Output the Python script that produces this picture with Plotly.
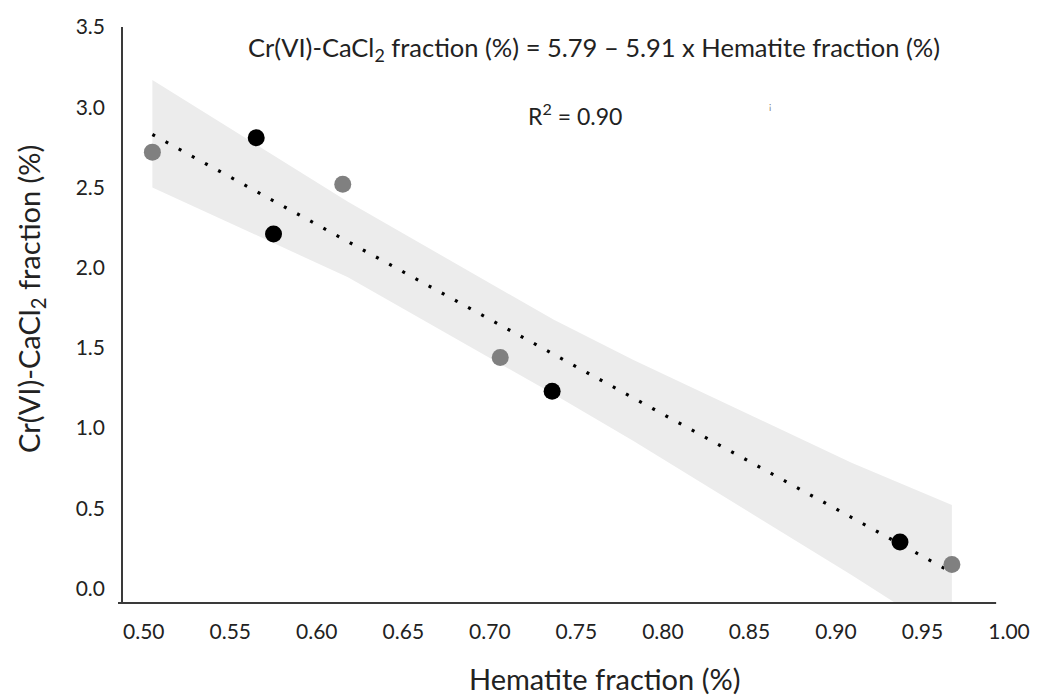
import plotly.graph_objects as go

# Data
gray_x = [0.505, 0.615, 0.706, 0.967]
gray_y = [2.72, 2.52, 1.44, 0.15]
black_x = [0.565, 0.575, 0.736, 0.937]
black_y = [2.81, 2.21, 1.23, 0.29]

fit_x = [0.505, 0.967]
fit_y = [2.83, 0.10]

band_x = [0.505, 0.618, 0.737, 0.783, 0.909, 0.967]
band_upper = [3.17, 2.41, 1.675, 1.425, 0.783, 0.52]
band_lower = [2.50, 1.94, 1.21, 0.92, 0.084, -0.315]

x_ticks = [0.50, 0.55, 0.60, 0.65, 0.70, 0.75, 0.80, 0.85, 0.90, 0.95, 1.00]
y_ticks = [0.0, 0.5, 1.0, 1.5, 2.0, 2.5, 3.0, 3.5]

FONT = "Lato"
AX = "#3a3a3a"
TXT = "#222222"

fig = go.Figure()

fig.add_trace(go.Scatter(
    x=band_x + band_x[::-1],
    y=band_upper + band_lower[::-1],
    fill="toself", fillcolor="#ececec",
    line=dict(width=0), mode="lines", hoverinfo="skip", showlegend=False))

fig.add_trace(go.Scatter(
    x=fit_x, y=fit_y, mode="lines",
    line=dict(color="black", width=3.2, dash="3px,12px"),
    showlegend=False))

fig.add_trace(go.Scatter(
    x=gray_x, y=gray_y, mode="markers",
    marker=dict(color="#808080", size=17, line=dict(width=0)),
    showlegend=False, cliponaxis=False))

fig.add_trace(go.Scatter(
    x=black_x, y=black_y, mode="markers",
    marker=dict(color="#000000", size=17, line=dict(width=0)),
    showlegend=False, cliponaxis=False))

fig.update_layout(
    width=1042, height=695,
    margin=dict(l=122, r=22, t=27, b=92),
    paper_bgcolor="white", plot_bgcolor="white",
    font=dict(family=FONT, color=TXT),
    xaxis=dict(range=[0.48744, 1.0], tickvals=x_ticks,
               ticktext=[f"{v:.2f}" for v in x_ticks],
               showgrid=False, zeroline=False, showline=False,
               ticks="", ticklabelstandoff=14,
               tickfont=dict(family=FONT, size=21, color=TXT)),
    yaxis=dict(range=[-0.0905, 3.5], tickvals=y_ticks,
               ticktext=[f"{v:.1f}" for v in y_ticks],
               showgrid=False, zeroline=False, showline=False,
               ticks="", ticklabelstandoff=16,
               tickfont=dict(family=FONT, size=21, color=TXT)),
    shapes=[
        dict(type="line", xref="paper", yref="paper",
             x0=-0.0045, x1=0.9855, y0=0, y1=0,
             line=dict(color=AX, width=2)),
        dict(type="line", xref="paper", yref="paper",
             x0=0, x1=0, y0=0, y1=1.0,
             line=dict(color=AX, width=2)),
    ],
    annotations=[
        dict(text="Cr(VI)-CaCl<sub>2</sub> fraction (%) = 5.79 – 5.91 x Hematite fraction (%)",
             x=0.760, y=3.36, xref="x", yref="y", showarrow=False,
             xanchor="center", yanchor="middle",
             font=dict(family=FONT, size=25.5, color=TXT)),
        dict(text="R<sup>2</sup> = 0.90",
             x=0.749, y=2.954, xref="x", yref="y", showarrow=False,
             xanchor="center", yanchor="middle",
             font=dict(family=FONT, size=23, color=TXT)),
        dict(text="¡", x=0.862, y=3.01, xref="x", yref="y", showarrow=False,
             font=dict(family=FONT, size=9, color="#777777")),
        dict(text="Hematite fraction (%)", x=0.5445, y=-0.1303,
             xref="paper", yref="paper", showarrow=False,
             xanchor="center", yanchor="middle",
             font=dict(family=FONT, size=29, color=TXT)),
        dict(text="Cr(VI)-CaCl<sub>2</sub> fraction (%)", x=-0.1024, y=0.528,
             xref="paper", yref="paper", showarrow=False, textangle=-90,
             xanchor="center", yanchor="middle",
             font=dict(family=FONT, size=29, color=TXT)),
    ],
)

fig.write_html("out.html")
